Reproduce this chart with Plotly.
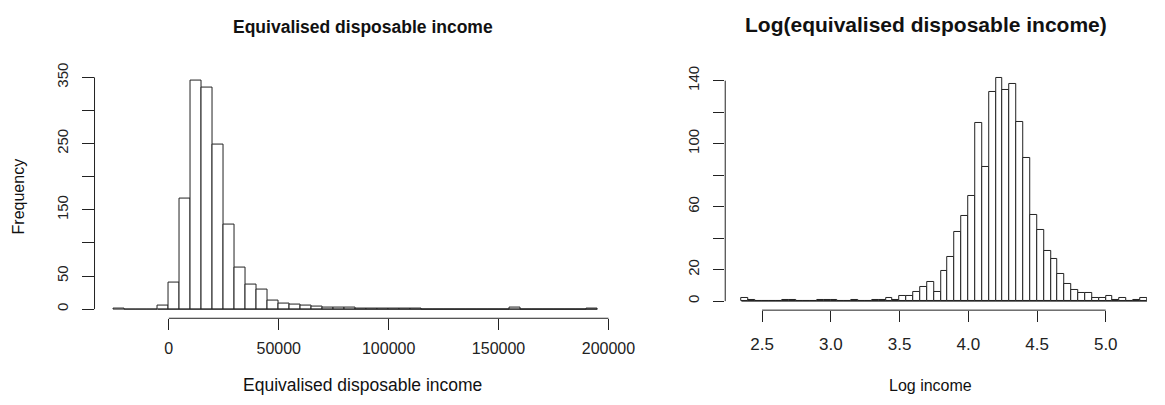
import plotly.graph_objects as go

W, H = 1165, 405

# ---- data -------------------------------------------------------------
# Equivalised disposable income: 5000-wide bins starting at -25000
inc_start = -25000
inc_bin = 5000
inc_counts = [1, 0, 0, 0, 5, 40, 167, 345, 335, 249, 127, 63, 37, 29, 13,
              8, 7, 5, 4, 3, 2, 2, 1, 1, 1, 1, 1, 1, 0, 0,
              0, 0, 0, 0, 0, 0, 2, 0, 0, 0, 0, 0, 0, 1]
inc_xticks = [0, 50000, 100000, 150000, 200000]
inc_yticks = [0, 50, 100, 150, 200, 250, 300, 350]
inc_ylabels = ["0", "50", "", "150", "", "250", "", "350"]

# Log(equivalised disposable income): 0.05-wide bins starting at 2.35
log_start = 2.35
log_bin = 0.05
log_counts = [2, 1, 0, 0, 0, 0, 1, 1, 0, 0, 0, 1, 1, 1, 0, 0, 1, 0, 0, 1,
              1, 2, 1, 3, 3, 6, 9, 12, 6, 19, 28, 44, 54, 67, 113, 85, 133,
              142, 134, 138, 114, 91, 55, 45, 32, 27, 17, 11, 7, 5, 5, 2, 2,
              3, 1, 2, 0, 1, 2]
log_xticks = [2.5, 3.0, 3.5, 4.0, 4.5, 5.0]
log_yticks = [0, 20, 40, 60, 80, 100, 120, 140]
log_ylabels = ["0", "20", "", "60", "", "100", "", "140"]

FONT = "Liberation Sans, Arial, sans-serif"
INK = "#222222"


def px(xp):
    return xp / W


def py(yp):
    return 1 - yp / H


def centers(start, width, counts):
    return [start + width * (i + 0.5) for i in range(len(counts))]


fig = go.Figure()

panels = [
    dict(start=inc_start, width=inc_bin, counts=inc_counts, xt=inc_xticks,
         yt=inc_yticks, yl=inc_ylabels, xa="x", ya="y", base_from=4),
    dict(start=log_start, width=log_bin, counts=log_counts, xt=log_xticks,
         yt=log_yticks, yl=log_ylabels, xa="x2", ya="y2", base_from=0),
]

for p in panels:
    n = len(p["counts"])
    # flat line along the bottom of the bins (empty bins show as a line)
    fig.add_trace(go.Scatter(
        x=[p["start"] + p["width"] * p["base_from"], p["start"] + p["width"] * n],
        y=[0, 0], mode="lines", line=dict(color=INK, width=1),
        xaxis=p["xa"], yaxis=p["ya"], hoverinfo="skip", showlegend=False))
    fig.add_trace(go.Bar(
        x=centers(p["start"], p["width"], p["counts"]), y=p["counts"],
        width=p["width"],
        marker=dict(color="white", line=dict(color=INK, width=1)),
        xaxis=p["xa"], yaxis=p["ya"], showlegend=False))


def tfont(size):
    return dict(family=FONT, size=size, color="#222")


axis_base = dict(showgrid=False, zeroline=False, showline=False,
                 ticks="outside", tickwidth=1, tickcolor=INK)

fig.update_layout(
    width=W, height=H,
    margin=dict(l=0, r=0, t=0, b=0),
    paper_bgcolor="white", plot_bgcolor="white",
    bargap=0,
    xaxis=dict(domain=[px(96), px(626.5)], range=[-33800, 203800],
               tickvals=inc_xticks, ticktext=[str(v) for v in inc_xticks],
               ticklen=11, ticklabelstandoff=5, tickfont=tfont(16),
               anchor="y", **axis_base),
    yaxis=dict(domain=[py(316.3), py(64)], range=[-13.8, 358.8],
               tickvals=inc_yticks, ticktext=inc_ylabels,
               ticklen=12, ticklabelstandoff=8, tickfont=tfont(15),
               tickangle=-90, anchor="x", **axis_base),
    xaxis2=dict(domain=[px(736.6), 1.0], range=[2.232, 5.30],
                tickvals=log_xticks, ticktext=[f"{v:.1f}" for v in log_xticks],
                ticklen=11, ticklabelstandoff=7, tickfont=tfont(17),
                anchor="y2", **axis_base),
    yaxis2=dict(domain=[py(308), py(59.3)], range=[-5.72, 148.7],
                tickvals=log_yticks, ticktext=log_ylabels,
                ticklen=11, ticklabelstandoff=8, tickfont=tfont(15),
                tickangle=-90, anchor="x2", **axis_base),
)

# axis lines that run only between the first and last tick
shapes = []
for p in panels:
    shapes.append(dict(type="line", xref=p["xa"], yref=p["ya"] + " domain",
                       x0=p["xt"][0], x1=p["xt"][-1], y0=0, y1=0,
                       line=dict(color=INK, width=1)))
    shapes.append(dict(type="line", xref=p["xa"] + " domain", yref=p["ya"],
                       x0=0, x1=0, y0=p["yt"][0], y1=p["yt"][-1],
                       line=dict(color=INK, width=1)))
fig.update_layout(shapes=shapes)


def label(text, x, y, size, angle=0):
    fig.add_annotation(text=text, x=px(x), y=py(y), xref="paper",
                       yref="paper", xanchor="center", yanchor="middle",
                       showarrow=False, textangle=angle,
                       font=dict(family=FONT, size=size, color="#111"))


label("<b>Equivalised disposable income</b>", 369, 18, 17.5)
label("<b>Log(equivalised disposable income)</b>", 941, 16, 21)
label("Equivalised disposable income", 368, 385, 17.5)
label("Log income", 945, 385, 16)
label("Frequency", 19, 192, 16, angle=-90)

fig.write_html("out.html")
